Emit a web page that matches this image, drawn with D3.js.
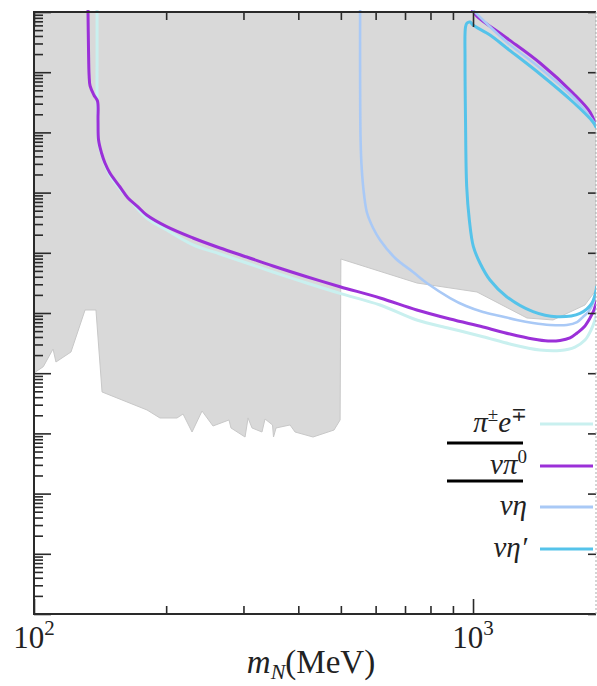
<!DOCTYPE html>
<html>
<head>
<meta charset="utf-8">
<script src="https://cdn.jsdelivr.net/npm/d3@7"></script>
<style>
  html, body { margin: 0; padding: 0; background: #fff; }
  svg { display: block; }
  text { font-family: "Liberation Serif", "DejaVu Serif", serif; fill: #222; }
</style>
</head>
<body>
<svg id="chart" width="597" height="686"></svg>
<script>
// Heavy neutral lepton: decay-channel contours over the excluded (grey) region.
// Masses in MeV, couplings given as log10 |U|^2.

const xTickLabels = ["10", "10"];
const xTickExps = ["2", "3"];
const xMajor = [100, 1000];

// Excluded region (grey)
const excl_mass = [100,1906,1906,1799,1521,1327,1021,745.5,500,498,482.4,432.1,393.2,383.0,355.9,351.2,349.4,335.9,330.6,313.8,307.3,302.5,281.0,278.1,255.7,241.4,229.1,218.5,211.7,193.6,180.9,142.9,138.4,130.7,121.4,112.2,110.5,105.0,100];
const excl_logU2 = [0,0,-4.618,-4.867,-5.116,-5.083,-4.651,-4.502,-4.103,-6.777,-6.944,-7.060,-6.977,-6.860,-6.910,-7.060,-6.860,-6.761,-6.977,-6.910,-6.744,-7.060,-6.910,-6.777,-6.877,-6.628,-6.977,-6.678,-6.744,-6.744,-6.611,-6.312,-4.950,-4.950,-5.648,-5.814,-5.598,-5.892,-5.997];

// pi+- e-+
const piE_mass = [139.2,139.2,139.2,139.9,140.3,142.6,148.9,157.0,165.4,180.6,200.6,230.3,265.3,305.2,350.3,418.0,497.7,614.1,744.5,886.6,1054,1214,1421,1579,1707,1799,1857,1896,1916];
const piE_logU2 = [0.1,-0.797,-1.429,-1.794,-2.159,-2.375,-2.708,-2.940,-3.123,-3.422,-3.621,-3.870,-4.020,-4.169,-4.319,-4.502,-4.674,-4.867,-5.116,-5.257,-5.394,-5.515,-5.615,-5.623,-5.565,-5.449,-5.282,-5.116,-4.950];

// nu pi0 (lower and upper branches)
const nuPi0Low_mass = [132.7,133.1,133.5,134.2,136.9,139.5,139.9,140.3,142.5,145.1,148.9,157.0,163.7,171.7,180.6,200.6,230.3,265.3,305.2,350.3,418.0,497.7,614.1,744.5,886.6,1054,1214,1370,1482,1579,1663,1726,1790,1847,1886,1916];
const nuPi0Low_logU2 = [0.1,-0.631,-1.047,-1.229,-1.379,-1.478,-1.794,-2.126,-2.342,-2.508,-2.674,-2.907,-3.090,-3.223,-3.372,-3.566,-3.754,-3.920,-4.070,-4.219,-4.397,-4.563,-4.751,-4.950,-5.100,-5.233,-5.349,-5.432,-5.465,-5.457,-5.415,-5.332,-5.233,-5.083,-4.950,-4.784];
const nuPi0High_mass = [998,1019,1193,1421,1689,1847,1906];
const nuPi0High_logU2 = [0.03,-0.066,-0.432,-0.847,-1.346,-1.661,-1.894];

// nu eta (lower and upper branches)
const nuEtaLow_mass = [553.1,553.1,554.5,557.5,564.8,573.7,592.1,614.1,664.3,730.1,784.6,886.6,964.0,1054,1152,1258,1370,1498,1635,1726,1780,1838,1876,1906];
const nuEtaLow_logU2 = [0.1,-1.130,-2.126,-2.575,-3.040,-3.339,-3.588,-3.787,-4.086,-4.319,-4.502,-4.751,-4.884,-4.983,-5.050,-5.116,-5.166,-5.199,-5.199,-5.150,-5.066,-4.967,-4.834,-4.651];
const nuEtaHigh_mass = [1003,1193,1421,1689,1906];
const nuEtaHigh_logU2 = [0.02,-0.498,-0.930,-1.412,-1.877];

// nu eta' (closed contour)
const nuEtaP_mass = [1906,1876,1689,1421,1193,1093,1000,984.4,969.0,961.4,959.0,961.4,967.4,980.9,1002,1037,1093,1193,1370,1551,1753,1864,1913];
const nuEtaP_logU2 = [-1.910,-1.827,-1.495,-1.030,-0.598,-0.382,-0.216,-0.166,-0.183,-0.249,-0.797,-1.794,-2.902,-3.455,-3.899,-4.169,-4.452,-4.729,-4.978,-5.061,-5.005,-4.839,-4.563];

const seriesNames = ["π±e∓", "νπ0", "νη", "νη′"];
const seriesColors = ["#c9f0ef", "#9b30d8", "#a9c9f6", "#55c3ea"];

const margin = { left: 34, top: 12, right: 1, bottom: 72 };
const W = 597, H = 686;
const innerW = W - margin.left - margin.right;
const innerH = H - margin.top - margin.bottom;

const svg = d3.select("#chart");
const x = d3.scaleLog().domain([100, 1906]).range([margin.left, margin.left + innerW]);
const y = d3.scaleLog().domain([1e-10, 1]).range([margin.top + innerH, margin.top]);

const pts = (m, l) => m.map((v, i) => [v, Math.pow(10, l[i])]);

svg.append("clipPath").attr("id", "plot-clip")
  .append("rect").attr("x", margin.left).attr("y", margin.top - 2)
  .attr("width", innerW).attr("height", innerH + 2);

const plot = svg.append("g").attr("clip-path", "url(#plot-clip)");

// excluded region
const area = d3.line().x(d => x(d[0])).y(d => y(d[1]));
plot.append("path")
  .attr("d", area(pts(excl_mass, excl_logU2)) + "Z")
  .attr("fill", "#d9d9d9").attr("stroke", "#c8c8c8").attr("stroke-width", 1);

const curve = d3.line().x(d => x(d[0])).y(d => y(d[1])).curve(d3.curveCatmullRom.alpha(0.5));

function drawLine(m, l, color, w) {
  plot.append("path").attr("d", curve(pts(m, l)))
    .attr("fill", "none").attr("stroke", color).attr("stroke-width", w)
    .attr("stroke-linejoin", "round").attr("stroke-linecap", "round");
}
drawLine(piE_mass, piE_logU2, seriesColors[0], 3);
drawLine(nuPi0Low_mass, nuPi0Low_logU2, seriesColors[1], 3);
drawLine(nuPi0High_mass, nuPi0High_logU2, seriesColors[1], 3);
drawLine(nuEtaLow_mass, nuEtaLow_logU2, seriesColors[2], 2.6);
drawLine(nuEtaHigh_mass, nuEtaHigh_logU2, seriesColors[2], 2.6);
drawLine(nuEtaP_mass, nuEtaP_logU2, seriesColors[3], 3);

// ticks
const yMajor = d3.range(-10, 1).map(e => Math.pow(10, e));
const yMinor = [];
for (let e = -10; e < 0; e++) for (let k = 2; k <= 9; k++) yMinor.push(k * Math.pow(10, e));
const xMinor = [200, 300, 400, 500, 600, 700, 800, 900];

function tickGroup(axis, tx, ty) {
  const g = svg.append("g").attr("transform", `translate(${tx},${ty})`).call(axis);
  g.select(".domain").remove();
  g.selectAll("line").attr("stroke", "#2a2a2a").attr("stroke-width", 1.6);
  g.selectAll("text").remove();
  return g;
}
const frameL = margin.left, frameR = margin.left + innerW;
const frameT = margin.top, frameB = margin.top + innerH;

tickGroup(d3.axisRight(y).tickValues(yMinor).tickSize(9), frameL, 0);
tickGroup(d3.axisRight(y).tickValues(yMajor).tickSize(17), frameL, 0);
tickGroup(d3.axisLeft(y).tickValues(yMajor).tickSize(8), frameR, 0);
tickGroup(d3.axisTop(x).tickValues(xMinor).tickSize(8), 0, frameB);
tickGroup(d3.axisTop(x).tickValues(xMajor).tickSize(15), 0, frameB);
tickGroup(d3.axisBottom(x).tickValues(xMinor).tickSize(8), 0, frameT);
tickGroup(d3.axisBottom(x).tickValues(xMajor).tickSize(15), 0, frameT);

// frame
svg.append("path").attr("d", `M${frameR},${frameT}H${frameL}V${frameB}H${frameR}`)
  .attr("fill", "none").attr("stroke", "#2a2a2a").attr("stroke-width", 2);
svg.append("line").attr("x1", frameR).attr("x2", frameR).attr("y1", frameT).attr("y2", frameB)
  .attr("stroke", "#aaa").attr("stroke-width", 1).attr("stroke-dasharray", "2,2");

// x tick labels
xMajor.forEach((v, i) => {
  const t = svg.append("text").attr("x", x(v)).attr("y", 648)
    .attr("text-anchor", "middle").attr("font-size", 31);
  t.append("tspan").text(xTickLabels[i]);
  t.append("tspan").attr("font-size", 21).attr("dy", -13).text(xTickExps[i]);
});

// x axis title
const xl = svg.append("text").attr("x", 311).attr("y", 673).attr("text-anchor", "middle").attr("font-size", 33);
xl.append("tspan").attr("font-style", "italic").text("m");
xl.append("tspan").attr("font-style", "italic").attr("font-size", 22).attr("dy", 6).text("N");
xl.append("tspan").attr("dy", -6).text("(MeV)");

// legend
const legY = [424, 466, 507, 549];
const legendText = [
  [["π", 0, false], ["±", -11, true], ["e", 11, false], ["∓", -11, true]],
  [["ν", 0, false], ["π", 0, false], ["0", -11, true]],
  [["ν", 0, false], ["η", 0, false]],
  [["ν", 0, false], ["η", 0, false], ["′", 0, false]]
];
seriesNames.forEach((name, i) => {
  const t = svg.append("text").attr("x", 527).attr("y", legY[i] + 8)
    .attr("text-anchor", "end").attr("font-size", 29).attr("font-style", "italic");
  legendText[i].forEach(([s, dy, sup]) => {
    const ts = t.append("tspan").text(s);
    if (dy) ts.attr("dy", dy);
    if (sup) ts.attr("font-size", 19).attr("font-style", "normal");
  });
  svg.append("line").attr("x1", 540).attr("x2", 593).attr("y1", legY[i]).attr("y2", legY[i])
    .attr("stroke", seriesColors[i]).attr("stroke-width", 3);
});
[443, 481].forEach(yy => {
  svg.append("line").attr("x1", 447).attr("x2", 523).attr("y1", yy).attr("y2", yy)
    .attr("stroke", "#000").attr("stroke-width", 3.2);
});
</script>
</body>
</html>
